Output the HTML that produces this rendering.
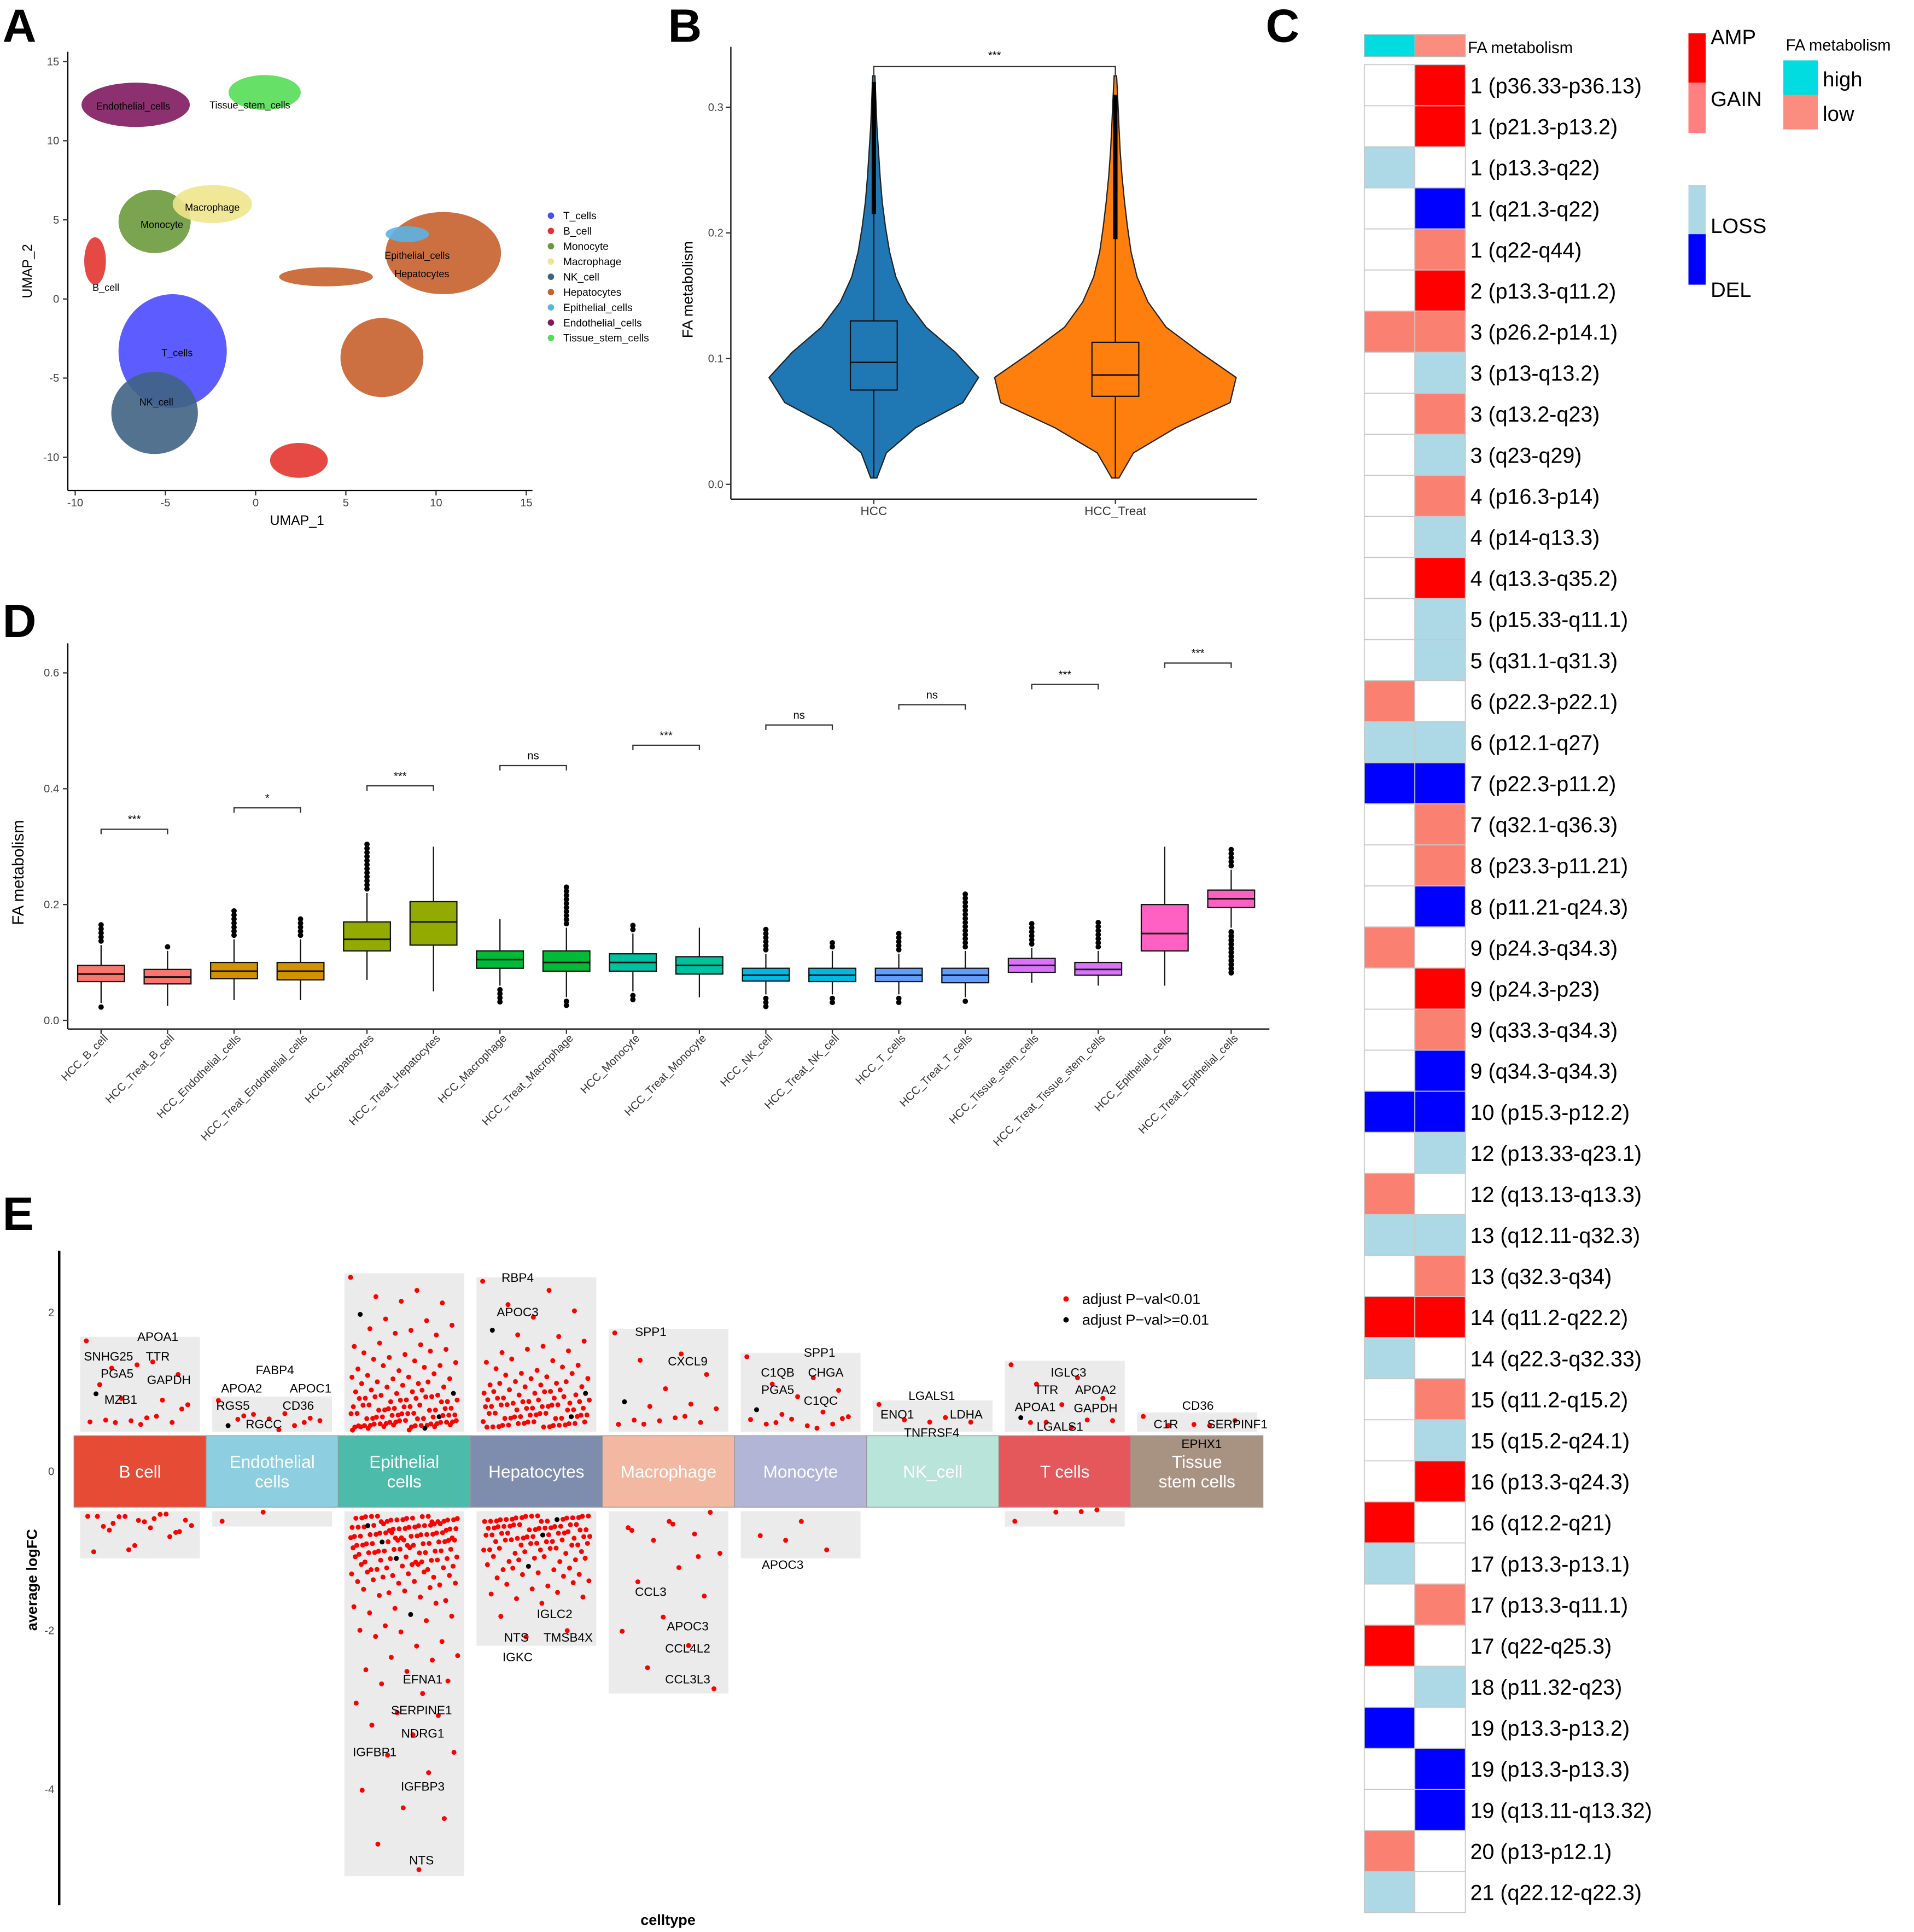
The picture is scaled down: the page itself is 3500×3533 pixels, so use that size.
<!DOCTYPE html>
<html><head><meta charset="utf-8"><style>html,body{margin:0;padding:0;background:#fff}svg{display:block}text{font-family:"Liberation Sans",sans-serif}</style></head>
<body>
<svg id="fig" xmlns="http://www.w3.org/2000/svg" width="3500" height="3533" viewBox="0 0 1553 1567.7">
<rect width="1560" height="1575" fill="#fff"/>
<g id="A"></g>
<g id="B"></g>
<g id="C"></g>
<g id="D"></g>
<g id="E"></g>
</svg>
<script>
// ---------- Panel A data ----------
const umapNames=["T_cells","B_cell","Monocyte","Macrophage","NK_cell","Hepatocytes","Epithelial_cells","Endothelial_cells","Tissue_stem_cells"];
const umapColors=["#4b4bff","#e3342f","#6b9a3c","#f0e68c","#3f6383","#c8612c","#5cb3e3","#801a5f","#56dd56"];
const blobCluster=[7,8,2,3,1,1,0,4,5,5,5,6];
const blobU=[-6.65,0.5,-5.6,-2.4,-8.9,2.4,-4.6,-5.6,10.4,7.0,3.9,8.4];
const blobV=[12.27,13.05,4.9,6.0,2.4,-10.2,-3.3,-7.2,2.9,-3.7,1.4,4.1];
const blobSU=[3.0,2.0,2.0,2.2,0.6,1.6,3.0,2.4,3.2,2.3,2.6,1.2];
const blobSV=[1.4,1.1,2.0,1.2,1.5,1.1,3.6,2.6,2.6,2.5,0.6,0.5];
// ---------- Panel B data ----------
const vioCats=["HCC","HCC_Treat"];
const vioColors=["#1f77b4","#ff7f0e"];
const vioLevels=[0.005,0.025,0.045,0.065,0.085,0.105,0.125,0.145,0.165,0.185,0.205,0.225,0.245,0.265,0.285,0.305,0.325];
const vioHCC=[0.03,0.12,0.4,0.85,1.0,0.78,0.5,0.32,0.21,0.15,0.11,0.08,0.06,0.045,0.03,0.02,0.01];
const vioTreat=[0.03,0.15,0.5,0.95,1.0,0.7,0.42,0.27,0.18,0.13,0.1,0.075,0.055,0.04,0.03,0.02,0.01];
const vioMed=[0.097,0.087], vioQ1=[0.075,0.07], vioQ3=[0.13,0.113], vioLo=[0.005,0.005], vioHi=[0.215,0.195], vioMax=[0.32,0.31];
// ---------- Panel C data ----------
const cnvLabels=["1 (p36.33-p36.13)","1 (p21.3-p13.2)","1 (p13.3-q22)","1 (q21.3-q22)","1 (q22-q44)","2 (p13.3-q11.2)","3 (p26.2-p14.1)","3 (p13-q13.2)","3 (q13.2-q23)","3 (q23-q29)","4 (p16.3-p14)","4 (p14-q13.3)","4 (q13.3-q35.2)","5 (p15.33-q11.1)","5 (q31.1-q31.3)","6 (p22.3-p22.1)","6 (p12.1-q27)","7 (p22.3-p11.2)","7 (q32.1-q36.3)","8 (p23.3-p11.21)","8 (p11.21-q24.3)","9 (p24.3-q34.3)","9 (p24.3-p23)","9 (q33.3-q34.3)","9 (q34.3-q34.3)","10 (p15.3-p12.2)","12 (p13.33-q23.1)","12 (q13.13-q13.3)","13 (q12.11-q32.3)","13 (q32.3-q34)","14 (q11.2-q22.2)","14 (q22.3-q32.33)","15 (q11.2-q15.2)","15 (q15.2-q24.1)","16 (p13.3-q24.3)","16 (q12.2-q21)","17 (p13.3-p13.1)","17 (p13.3-q11.1)","17 (q22-q25.3)","18 (p11.32-q23)","19 (p13.3-p13.2)","19 (p13.3-p13.3)","19 (q13.11-q13.32)","20 (p13-p12.1)","21 (q22.12-q22.3)"];
const cnvHigh="WWLWWWPWWWWWWWWPLBWWWPWWWBWPLWRLWWWRLWRWBWWPL";
const cnvLow ="RRWBPRPLPLPLRLLWLBPPBWRPBBLWLPRWPLRWWPWLWBBWW";
// ---------- Panel D data ----------
const boxCats=["HCC_B_cell","HCC_Treat_B_cell","HCC_Endothelial_cells","HCC_Treat_Endothelial_cells","HCC_Hepatocytes","HCC_Treat_Hepatocytes","HCC_Macrophage","HCC_Treat_Macrophage","HCC_Monocyte","HCC_Treat_Monocyte","HCC_NK_cell","HCC_Treat_NK_cell","HCC_T_cells","HCC_Treat_T_cells","HCC_Tissue_stem_cells","HCC_Treat_Tissue_stem_cells","HCC_Epithelial_cells","HCC_Treat_Epithelial_cells"];
const boxColors=["#f8766d","#d39200","#93aa00","#00ba38","#00c19f","#00b9e3","#619cff","#db72fb","#ff61c3"];
const boxMed=[.08,.075,.085,.085,.14,.17,.105,.1,.1,.095,.078,.078,.078,.078,.095,.088,.15,.21];
const boxQ1=[.067,.063,.072,.07,.12,.13,.09,.085,.085,.08,.068,.067,.067,.065,.083,.078,.12,.195];
const boxQ3=[.095,.088,.1,.1,.17,.205,.12,.12,.115,.11,.09,.09,.09,.09,.107,.1,.2,.225];
const boxLo=[.03,.025,.035,.035,.07,.05,.06,.04,.05,.04,.045,.045,.045,.04,.065,.06,.06,.16];
const boxHi=[.13,.12,.14,.14,.22,.3,.175,.16,.15,.16,.115,.12,.115,.12,.125,.12,.3,.26];
const boxOutMax=[.165,.13,.19,.18,.31,.3,.175,.23,.165,.16,.16,.14,.15,.22,.17,.17,.3,.3];
const boxOutMin=[.02,.02,.03,.03,.07,.05,.03,.02,.03,.04,.02,.03,.03,.03,.065,.06,.06,.08];
const sigLabels=["***","*","***","ns","***","ns","ns","***","***"];
const sigY=[.33,.367,.405,.44,.475,.51,.545,.58,.617];
// ---------- Panel E data ----------
const deCells=["B cell","Endothelial\ncells","Epithelial\ncells","Hepatocytes","Macrophage","Monocyte","NK_cell","T cells","Tissue\nstem cells"];
const deColors=["#e64b35","#8dcfe0","#4dbbaa","#7e8cae","#f3b8a2","#b2b5d5","#b9e4d9","#e4585b","#a89282"];
const deB=[16,14,13,12,13,10,9,9,8,7,6.5,6,6,6.5,7,6,7.5,6.2,11,-5.5,-6,-6.5,-7,-7.5,-8,-9,-10,-5.5,-6,-5.8,-6.2,-7,-8.5,-9.5,-5.5,-6,-6.8,-7.2,-6,-5.7];
const deEndo=[8.5,7.5,7,6.5,6.2,6,5.8,7,6,5.5,6.6,6,-5.5,-6];
const deEpi=[24,23,22,21,21,20,19,19,18,18,18,17,17,16,16,16,15,15,15,15,14,14,14,14,13,13,13,13,13,12,12,12,12,12,12,11,11,11,11,11,11,11,10,10,10,10,10,10,10,10,9,9,9,9,9,9,9,9,9,9,9,9,8,8,8,8,8,8,8,8,8,8,8,8,8,8,7,7,7,7,7,7,7,7,7,7,7,7,7,7,7,7,7,7,6,6,6,6,6,6,6,6,6,6,6,6,6,6,6,6,6,6,6,6,6,6,5.5,5.5,5.5,5.5,5.5,5.5,5.5,5.5,
-50,-47,-44,-42,-40,-38,-36,-35,-33,-32,-31,-30,-29,-28,-27,-26,-25,-25,-24,-23,-23,-22,-21,-21,-20,-20,-19,-19,-18,-18,-18,-17,-17,-17,-16,-16,-16,-15,-15,-15,-15,-14,-14,-14,-14,-14,-14,-13,-13,-13,-13,-13,-13,-13,-13,-12,-12,-12,-12,-12,-12,-12,-12,-12,-12,-11,-11,-11,-11,-11,-11,-11,-11,-11,-11,-11,-11,-10,-10,-10,-10,-10,-10,-10,-10,-10,-10,-10,-10,-10,-10,-9,-9,-9,-9,-9,-9,-9,-9,-9,-9,-9,-9,-9,-9,-9,-9,-8,-8,-8,-8,-8,-8,-8,-8,-8,-8,-8,-8,-8,-8,-8,-8,-8,-8,-7,-7,-7,-7,-7,-7,-7,-7,-7,-7,-7,-7,-7,-7,-7,-7,-7,-7,-7,-7,-6,-6,-6,-6,-6,-6,-6,-6,-6,-6,-6,-6,-6,-6,-6,-6,-6,-6,-6,-6];
const deHep=[23.5,23,21,20,19,18,17,17,16,16,15,15,15,14,14,14,13,13,13,13,12,12,12,12,12,12,11,11,11,11,11,11,11,11,10,10,10,10,10,10,10,10,10,10,9,9,9,9,9,9,9,9,9,9,9,9,8,8,8,8,8,8,8,8,8,8,8,8,8,8,7,7,7,7,7,7,7,7,7,7,7,7,7,7,7,7,6,6,6,6,6,6,6,6,6,6,6,6,6,6,6,6,6,6,
-6,-6,-6,-6,-6,-6,-6,-6,-6,-6,-6,-6,-6,-6,-6,-6,-6,-6,-6,-6,-7,-7,-7,-7,-7,-7,-7,-7,-7,-7,-7,-7,-7,-7,-7,-7,-7,-7,-8,-8,-8,-8,-8,-8,-8,-8,-8,-8,-8,-8,-8,-8,-8,-8,-9,-9,-9,-9,-9,-9,-9,-9,-9,-9,-9,-9,-10,-10,-10,-10,-10,-10,-10,-10,-10,-10,-11,-11,-11,-11,-11,-11,-11,-11,-12,-12,-12,-12,-12,-12,-13,-13,-13,-13,-13,-14,-14,-14,-14,-15,-15,-15,-16,-16,-17,-18,-20,-21];
const deMac=[17,15,14,12,10,9,8.5,8,7.5,7,6.5,6,6,6.2,7,5.8,-5.5,-6,-7,-8,-9,-10,-12,-14,-16,-18,-20,-22,-25,-27,-6.5,-7.5,-11];
const deMono=[14,12,11,10,9,8,7.5,7,6.5,6,6,5.8,6.2,6.8,5.5,6,6.3,-6,-8,-10,-9];
const deNK=[8,7,6.5,6,5.8];
const deT=[13,12,11,9,8,7,6.5,6,6,5.8,6.2,-5,-5.5,-6,-5];
const deTissue=[6.5,6,5.8,6.2,5.5];
const dePoints=[deB,deEndo,deEpi,deHep,deMac,deMono,deNK,deT,deTissue];

const NS="http://www.w3.org/2000/svg";
function mk(parent,tag,attrs,txt){const e=document.createElementNS(NS,tag);for(const k in attrs)e.setAttribute(k,attrs[k]);if(txt!==undefined)e.textContent=txt;parent.appendChild(e);return e;}
function T(p,x,y,s,size,anchor,extra){const e=mk(p,'text',Object.assign({x:x,y:y,'font-size':size,'text-anchor':anchor||'start',fill:'#000'},extra||{}),s);return e;}
const fig=document.getElementById('fig');
[["A",2,34],["B",542,34],["C",1027,34],["D",2,517],["E",2,998]].forEach(l=>{const t=T(fig,l[1],l[2],l[0],38,'start',{'font-weight':'bold'});});

// ---------- Panel A ----------
(function(){const g=document.getElementById('A');
const ux=u=>61+(u+10)*14.64, vy=v=>50+(15-v)*12.84;
mk(g,'line',{x1:55,y1:42,x2:55,y2:398,stroke:'#000','stroke-width':1});
mk(g,'line',{x1:55,y1:398,x2:432,y2:398,stroke:'#000','stroke-width':1});
[-10,-5,0,5,10,15].forEach(v=>{mk(g,'line',{x1:ux(v),y1:398,x2:ux(v),y2:402,stroke:'#333'});T(g,ux(v),411,String(v),9,'middle',{fill:'#444'});});
[15,10,5,0,-5,-10].forEach(v=>{mk(g,'line',{x1:51,y1:vy(v),x2:55,y2:vy(v),stroke:'#333'});T(g,48,vy(v)+3,String(v),9,'end',{fill:'#444'});});
T(g,241,426,"UMAP_1",11,'middle');
T(g,26,220,"UMAP_2",11,'middle',{transform:'rotate(-90 26 220)'});
blobCluster.forEach((c,i)=>{const e=mk(g,'ellipse',{cx:ux(blobU[i]),cy:vy(blobV[i]),rx:blobSU[i]*14.64,ry:blobSV[i]*12.84,fill:umapColors[c],opacity:0.9});

});
[["Endothelial_cells",78,89],["Tissue_stem_cells",170,88],["Macrophage",150,171],["Monocyte",114,185],["B_cell",75,236],["Epithelial_cells",312,210],["Hepatocytes",320,225],["T_cells",131,289],["NK_cell",113,329]].forEach(l=>T(g,l[1],l[2],l[0],8));
umapNames.forEach((n,i)=>{const y=175+i*12.4;const c=mk(g,'circle',{cx:447,cy:y,r:2.6,fill:umapColors[i]});


T(g,457,y+3,n,8.5);});
})();

// ---------- Panel B ----------
(function(){const g=document.getElementById('B');
const y=v=>393-v*1020, cx=[709,905], maxW=[85,98];
mk(g,'line',{x1:593,y1:38,x2:593,y2:405,stroke:'#000'});
mk(g,'line',{x1:593,y1:405,x2:1020,y2:405,stroke:'#000'});
[0,0.1,0.2,0.3].forEach(v=>{mk(g,'line',{x1:589,y1:y(v),x2:593,y2:y(v),stroke:'#333'});T(g,587,y(v)+3,v.toFixed(1),9,'end',{fill:'#444'});});
vioCats.forEach((c,i)=>{mk(g,'line',{x1:cx[i],y1:405,x2:cx[i],y2:409,stroke:'#333'});T(g,cx[i],418,c,10,'middle',{fill:'#333'});});
T(g,562,235,"FA metabolism",12,'middle',{transform:'rotate(-90 562 235)'});
[vioHCC,vioTreat].forEach((d,i)=>{let r=[],l=[];vioLevels.forEach((lv,k)=>{r.push((cx[i]+d[k]*maxW[i]).toFixed(1)+','+y(lv).toFixed(1));l.unshift((cx[i]-d[k]*maxW[i]).toFixed(1)+','+y(lv).toFixed(1));});
const p=mk(g,'path',{d:'M'+cx[i]+','+y(vioLevels[0])+' L'+r.join(' L')+' L'+cx[i]+','+y(vioLevels[16])+' L'+l.join(' L')+'Z',fill:vioColors[i],stroke:'#222','stroke-width':1});


mk(g,'line',{x1:cx[i],y1:y(vioLo[i]),x2:cx[i],y2:y(vioHi[i]),stroke:'#111'});
mk(g,'line',{x1:cx[i],y1:y(vioHi[i]),x2:cx[i],y2:y(vioMax[i]),stroke:'#000','stroke-width':3.5});
const b=mk(g,'rect',{x:cx[i]-19,y:y(vioQ3[i]),width:38,height:y(vioQ1[i])-y(vioQ3[i]),fill:vioColors[i],stroke:'#111'});


mk(g,'line',{x1:cx[i]-19,y1:y(vioMed[i]),x2:cx[i]+19,y2:y(vioMed[i]),stroke:'#111','stroke-width':1.2});
});
mk(g,'path',{d:'M709,62 L709,54 L905,54 L905,62',fill:'none',stroke:'#333'});
T(g,807,48,"***",9,'middle');
})();

// ---------- Panel C ----------
(function(){const g=document.getElementById('C');
const col={W:'#ffffff',R:'#ff0000',P:'#fa8072',L:'#add8e6',B:'#0000ff'};
const x0=1107,cw=41,y0=52.5,rh=33.32;
mk(g,'rect',{x:x0,y:28,width:cw,height:18,fill:'#00dce0',stroke:'#bbb','stroke-width':.6});
mk(g,'rect',{x:x0+cw,y:28,width:cw,height:18,fill:'#fa8c80',stroke:'#bbb','stroke-width':.6});
T(g,1191,43,"FA metabolism",13);
cnvLabels.forEach((lab,i)=>{const yy=y0+i*rh;
[cnvHigh[i],cnvLow[i]].forEach((k,j)=>{const r=mk(g,'rect',{x:x0+j*cw,y:yy,width:cw,height:rh,fill:col[k],stroke:'#c8c8c8','stroke-width':.8});

});
T(g,1193,yy+rh/2+6.5,lab,17.5);});
mk(g,'rect',{x:1370,y:27,width:14,height:40,fill:'#ff0000'});
mk(g,'rect',{x:1370,y:67,width:14,height:41,fill:'#ff8080'});
T(g,1388,36,"AMP",17);T(g,1388,86,"GAIN",17);
mk(g,'rect',{x:1370,y:150,width:14,height:40,fill:'#add8e6'});
mk(g,'rect',{x:1370,y:190,width:14,height:41,fill:'#0000ff'});
T(g,1388,189,"LOSS",17);T(g,1388,241,"DEL",17);
T(g,1449,41,"FA metabolism",13);
mk(g,'rect',{x:1447,y:49,width:28,height:28,fill:'#00dce0'});
mk(g,'rect',{x:1447,y:77,width:28,height:28,fill:'#fa8c80'});
T(g,1479,70,"high",17);T(g,1479,98,"low",17);
})();

// ---------- Panel D ----------
(function(){const g=document.getElementById('D');
const y=v=>828-v*470, cx=i=>82+i*53.94;
mk(g,'line',{x1:55,y1:522,x2:55,y2:835,stroke:'#000'});
mk(g,'line',{x1:55,y1:835,x2:1030,y2:835,stroke:'#000'});
[0,0.2,0.4,0.6].forEach(v=>{mk(g,'line',{x1:51,y1:y(v),x2:55,y2:y(v),stroke:'#333'});T(g,48,y(v)+3,v.toFixed(1),9,'end',{fill:'#444'});});
T(g,19,708,"FA metabolism",13,'middle',{transform:'rotate(-90 19 708)'});
boxCats.forEach((c,i)=>{const x=cx(i),col=boxColors[Math.floor(i/2)];
mk(g,'line',{x1:x,y1:835,x2:x,y2:839,stroke:'#333'});
T(g,x+6,843,c,9,'end',{fill:'#333',transform:'rotate(-45 '+(x+6)+' 843)'});
mk(g,'line',{x1:x,y1:y(boxLo[i]),x2:x,y2:y(boxHi[i]),stroke:'#111'});
for(let v=boxHi[i];v<=boxOutMax[i]+1e-9;v+=0.007){if(v>boxHi[i]+0.003)mk(g,'circle',{cx:x,cy:y(v),r:2.2,fill:'#000'});}
for(let v=boxLo[i];v>=boxOutMin[i]-1e-9;v-=0.007){if(v<boxLo[i]-0.003)mk(g,'circle',{cx:x,cy:y(v),r:2.2,fill:'#000'});}
if(i==17){for(let v=boxLo[i]-0.008;v>=boxOutMin[i];v-=0.007)mk(g,'circle',{cx:x,cy:y(v),r:2.2,fill:'#000'});}
const b=mk(g,'rect',{x:x-19,y:y(boxQ3[i]),width:38,height:y(boxQ1[i])-y(boxQ3[i]),fill:col,stroke:'#111'});


mk(g,'line',{x1:x-19,y1:y(boxMed[i]),x2:x+19,y2:y(boxMed[i]),stroke:'#111','stroke-width':1.3});});
sigLabels.forEach((s,k)=>{const a=cx(2*k),b=cx(2*k+1),yy=y(sigY[k]);
mk(g,'path',{d:`M${a},${yy+4} L${a},${yy} L${b},${yy} L${b},${yy+4}`,fill:'none',stroke:'#333'});
T(g,(a+b)/2,yy-5,s,9,'middle');});
})();

// ---------- Panel E ----------
(function(){const g=document.getElementById('E');
const y=v=>1194-v*64.5, x0=60, cw=107.2;
mk(g,'line',{x1:48,y1:1015,x2:48,y2:1546,stroke:'#000','stroke-width':2});
[2,0,-2,-4].forEach(v=>T(g,44,y(v)+3,String(v),9,'end',{fill:'#444'}));
T(g,30,1282,"average logFC",12,'middle',{transform:'rotate(-90 30 1282)','font-weight':'bold'});
T(g,542,1562,"celltype",12,'middle',{'font-weight':'bold'});
dePoints.forEach((pts,i)=>{const L=x0+i*cw;const vals=pts.map(v=>v/10);
const mx=Math.max(...vals),mn=Math.min(...vals);
mk(g,'rect',{x:L+5,y:y(mx)-6,width:cw-10,height:y(0.5)-y(mx)+6,fill:'#ebebeb'});
if(mn<0)mk(g,'rect',{x:L+5,y:y(-0.5),width:cw-10,height:y(mn)+6-y(-0.5),fill:'#ebebeb'});});
dePoints.forEach((pts,i)=>{const L=x0+i*cw;
pts.forEach((v,k)=>{const f=(k*0.6180339)%1;const jit=((k*0.7548777)%1-0.5)*5.5;const c=mk(g,'circle',{cx:L+10+f*(cw-20),cy:y(v/10)+jit,r:2,fill:(k%37==5)?'#000':'#ff0000'});

});});
deCells.forEach((c,i)=>{const L=x0+i*cw;const r=mk(g,'rect',{x:L,y:1165,width:cw,height:58,fill:deColors[i],stroke:'#999','stroke-width':.6});


const lines=c.split('\n');lines.forEach((ln,j)=>T(g,L+cw/2,1199+(j-(lines.length-1)/2)*16,ln,14,'middle',{fill:'#fff'}));});
[["APOA1",128,1088],["SNHG25",88,1104],["TTR",128,1104],["PGA5",95,1118],["GAPDH",137,1123],["MZB1",98,1139],["FABP4",223,1115],["APOA2",196,1130],["APOC1",252,1130],["RGS5",189,1144],["CD36",242,1144],["RGCC",214,1159],["RBP4",420,1040],["APOC3",420,1068],["IGLC2",450,1313],["NTS",419,1332],["TMSB4X",461,1332],["IGKC",420,1348],["EFNA1",343,1366],["SERPINE1",342,1391],["NDRG1",343,1410],["IGFBP1",304,1425],["IGFBP3",343,1453],["NTS",342,1513],["SPP1",528,1084],["CXCL9",558,1108],["CCL3",528,1295],["APOC3",558,1323],["CCL4L2",558,1341],["CCL3L3",558,1366],["SPP1",665,1101],["C1QB",631,1117],["CHGA",670,1117],["PGA5",631,1131],["C1QC",666,1140],["APOC3",635,1273],["LGALS1",756,1136],["ENO1",728,1151],["LDHA",784,1151],["TNFRSF4",756,1166],["IGLC3",867,1117],["TTR",849,1131],["APOA2",889,1131],["APOA1",840,1145],["GAPDH",889,1146],["LGALS1",860,1161],["CD36",972,1144],["C1R",946,1159],["SERPINF1",1004,1159],["EPHX1",975,1175]].forEach(l=>T(g,l[1],l[2],l[0],10,'middle'));
mk(g,'circle',{cx:865,cy:1054,r:2.2,fill:'#ff0000'});T(g,878,1058,"adjust P\u2212val<0.01",12);
mk(g,'circle',{cx:865,cy:1071,r:2.2,fill:'#000'});T(g,878,1075,"adjust P\u2212val>=0.01",12);
})();
</script>
</body></html>
